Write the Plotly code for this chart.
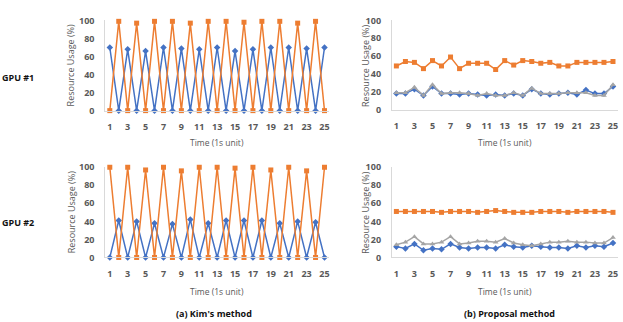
import plotly.graph_objects as go

time = list(range(1, 26))
x_tick_vals = list(range(1, 26, 2))
y_tick_vals = [0, 20, 40, 60, 80, 100]

# GPU #1, Kim's method
kim_gpu1_orange = [0, 99, 0, 97, 0, 99, 0, 99, 0, 97, 0, 99, 0, 99, 0, 98, 0, 99, 0, 99, 0, 97, 0, 99, 0]
kim_gpu1_blue = [70, 0, 68, 0, 66, 0, 70, 0, 69, 0, 68, 0, 70, 0, 66, 0, 68, 0, 70, 0, 70, 0, 69, 0, 70]
# GPU #2, Kim's method
kim_gpu2_orange = [100, 0, 100, 0, 97, 0, 100, 0, 96, 0, 100, 0, 100, 0, 99, 0, 100, 0, 97, 0, 100, 0, 96, 0, 100]
kim_gpu2_blue = [0, 41, 0, 40, 0, 38, 0, 37, 0, 42, 0, 38, 0, 41, 0, 41, 0, 41, 0, 38, 0, 40, 0, 39, 0]
# GPU #1, Proposal method
prop_gpu1_orange = [49, 54, 53, 46, 55, 49, 59, 46, 52, 52, 52, 45, 55, 50, 55, 54, 52, 53, 49, 49, 53, 53, 53, 53, 54]
prop_gpu1_blue = [18, 18, 23, 16, 26, 18, 18, 17, 18, 17, 16, 17, 16, 18, 16, 23, 18, 17, 18, 19, 17, 22, 18, 18, 26]
prop_gpu1_gray = [19, 19, 25, 16, 28, 18, 19, 19, 18, 16, 18, 16, 16, 19, 16, 24, 18, 18, 18, 19, 19, 19, 16, 16, 28]
# GPU #2, Proposal method
prop_gpu2_orange = [51, 51, 51, 51, 51, 50, 51, 51, 51, 50, 51, 52, 51, 50, 50, 50, 51, 51, 51, 50, 51, 51, 51, 51, 50]
prop_gpu2_blue = [12, 10, 15, 8, 10, 9, 15, 11, 10, 11, 11, 10, 14, 12, 11, 13, 12, 11, 11, 10, 13, 11, 13, 12, 16]
prop_gpu2_gray = [14, 17, 23, 15, 15, 17, 23, 15, 16, 18, 18, 17, 21, 16, 14, 13, 15, 17, 17, 18, 17, 17, 16, 16, 22]

ORANGE = "#ED7D31"
BLUE = "#4472C4"
GRAY = "#A5A5A5"
W, H = 623, 322

def xd(a, b):
    return [a / W, b / W]

def yd(bottom_px, top_px):
    return [1 - bottom_px / H, 1 - top_px / H]

panels = [
    ("", xd(105.5, 329.5), yd(108, 14),
     [(kim_gpu1_blue, BLUE, "diamond", 5), (kim_gpu1_orange, ORANGE, "square", 5)]),
    ("2", xd(392.5, 618.5), yd(107, 14),
     [(prop_gpu1_blue, BLUE, "diamond", 5), (prop_gpu1_orange, ORANGE, "square", 5), (prop_gpu1_gray, GRAY, "triangle-up", 5)]),
    ("3", xd(105.5, 329.5), yd(261, 167),
     [(kim_gpu2_blue, BLUE, "diamond", 5), (kim_gpu2_orange, ORANGE, "square", 5)]),
    ("4", xd(392.5, 618.5), yd(261, 167),
     [(prop_gpu2_blue, BLUE, "diamond", 5), (prop_gpu2_orange, ORANGE, "square", 5), (prop_gpu2_gray, GRAY, "triangle-up", 5)]),
]

fig = go.Figure()
tick_font = dict(family="Open Sans", size=9, color="#595959", weight="bold")
layout = dict(width=W, height=H, margin=dict(l=0, r=0, t=0, b=0),
              paper_bgcolor="white", plot_bgcolor="white", showlegend=False)

for suf, xdom, ydom, series in panels:
    for vals, col, sym, sz in series:
        fig.add_trace(go.Scatter(
            x=time, y=vals, mode="lines+markers",
            line=dict(color=col, width=1.5),
            marker=dict(color=col, symbol=sym, size=sz),
            xaxis="x" + suf, yaxis="y" + suf, cliponaxis=False))
    layout["xaxis" + suf] = dict(domain=xdom, range=[0.5, 25.5], anchor="y" + suf,
                                 tickvals=x_tick_vals, showgrid=False, zeroline=False,
                                 showline=True, linecolor="#D9D9D9", linewidth=1,
                                 ticks="", tickfont=tick_font, ticklabelstandoff=8)
    layout["yaxis" + suf] = dict(domain=ydom, range=[0, 100], anchor="x" + suf,
                                 tickvals=y_tick_vals, showgrid=False, zeroline=False,
                                 showline=True, linecolor="#D9D9D9", linewidth=1,
                                 ticks="", tickfont=tick_font, ticklabelstandoff=8)

fig.update_layout(**layout)

title_font = dict(family="Open Sans", size=9, color="#595959")
ann = []
for xc in (71, 366):
    for yc in (61, 214):
        ann.append(dict(x=xc / W, y=1 - yc / H, xref="paper", yref="paper",
                        text="Resource Usage (%)", showarrow=False, textangle=-90,
                        font=title_font, xanchor="center", yanchor="middle"))
for xc in (217.5, 505.5):
    for yc in (141, 296):
        ann.append(dict(x=xc / W, y=1 - yc / H, xref="paper", yref="paper",
                        text="Time (1s unit)", showarrow=False,
                        font=dict(family="Open Sans", size=8.5, color="#595959"),
                        xanchor="center", yanchor="middle"))
black_font = dict(family="Open Sans", size=9, color="#111111", weight="bold")
ann.append(dict(x=18 / W, y=1 - 73 / H, xref="paper", yref="paper", text="GPU #1",
                showarrow=False, font=black_font, xanchor="center", yanchor="middle"))
ann.append(dict(x=18 / W, y=1 - 225 / H, xref="paper", yref="paper", text="GPU #2",
                showarrow=False, font=black_font, xanchor="center", yanchor="middle"))
ann.append(dict(x=214 / W, y=1 - 319 / H, xref="paper", yref="paper", text="(a) Kim's method",
                showarrow=False, font=black_font, xanchor="center", yanchor="middle"))
ann.append(dict(x=510 / W, y=1 - 319 / H, xref="paper", yref="paper", text="(b) Proposal method",
                showarrow=False, font=black_font, xanchor="center", yanchor="middle"))
fig.update_layout(annotations=ann)

fig.write_html("out.html")
